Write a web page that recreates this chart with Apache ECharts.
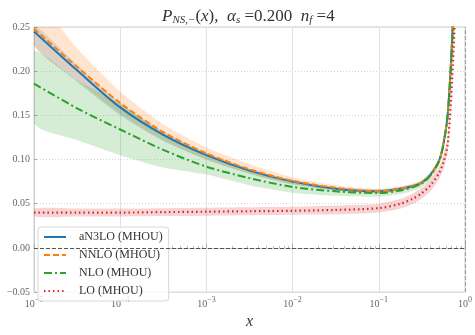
<!DOCTYPE html>
<html>
<head>
<meta charset="utf-8">
<script src="https://cdn.jsdelivr.net/npm/echarts@6/dist/echarts.min.js"></script>
<style>
  html, body { margin: 0; padding: 0; background: #fff; }
  #chart { width: 475px; height: 335px; }
</style>
</head>
<body>
<div id="chart"></div>
<script>
// log10(x) grid the curves were read at
const logX = [-5, -4.5, -4, -3.5, -3, -2.5, -2, -1.5, -1, -0.75, -0.6, -0.5, -0.4, -0.3, -0.25, -0.2, -0.15, -0.1]

const n3lo   = [0.245, 0.201, 0.159, 0.128, 0.105, 0.0875, 0.075, 0.067, 0.064, 0.067, 0.070, 0.074, 0.083, 0.099, 0.118, 0.152, 0.235, 0.36]
const n3loLo = [0.229, 0.188, 0.150, 0.121, 0.100, 0.084, 0.072, 0.065, 0.062, 0.065, 0.068, 0.072, 0.081, 0.097, 0.116, 0.149, 0.231, 0.354]
const n3loHi = [0.252, 0.207, 0.164, 0.132, 0.108, 0.090, 0.077, 0.069, 0.066, 0.069, 0.072, 0.076, 0.085, 0.101, 0.120, 0.155, 0.239, 0.366]

const nnlo   = [0.248, 0.205, 0.164, 0.131, 0.107, 0.089, 0.076, 0.068, 0.064, 0.067, 0.070, 0.074, 0.083, 0.099, 0.118, 0.152, 0.235, 0.36]
const nnloLo = [0.229, 0.190, 0.152, 0.122, 0.100, 0.084, 0.072, 0.065, 0.062, 0.065, 0.068, 0.072, 0.081, 0.097, 0.116, 0.149, 0.231, 0.354]
const nnloHi = [0.282, 0.226, 0.177, 0.140, 0.114, 0.095, 0.080, 0.071, 0.067, 0.070, 0.073, 0.077, 0.086, 0.102, 0.121, 0.156, 0.240, 0.367]

const nlo   = [0.186, 0.158, 0.134, 0.111, 0.092, 0.079, 0.069, 0.064, 0.062, 0.065, 0.069, 0.073, 0.082, 0.098, 0.117, 0.151, 0.233, 0.355]
const nloLo = [0.141, 0.122, 0.105, 0.091, 0.083, 0.071, 0.0625, 0.059, 0.058, 0.061, 0.065, 0.069, 0.078, 0.094, 0.113, 0.147, 0.228, 0.35]
const nloHi = [0.222, 0.190, 0.163, 0.130, 0.106, 0.087, 0.075, 0.068, 0.066, 0.068, 0.072, 0.076, 0.085, 0.101, 0.120, 0.155, 0.237, 0.36]

const lo   = [0.040, 0.040, 0.040, 0.0405, 0.041, 0.0415, 0.042, 0.043, 0.045, 0.050, 0.056, 0.062, 0.071, 0.085, 0.097, 0.118, 0.19, 0.30]
const loLo = [0.0355, 0.0355, 0.0355, 0.036, 0.0365, 0.037, 0.0375, 0.038, 0.040, 0.0445, 0.050, 0.056, 0.064, 0.078, 0.089, 0.109, 0.18, 0.285]
const loHi = [0.0445, 0.0445, 0.0445, 0.045, 0.0455, 0.046, 0.0465, 0.048, 0.050, 0.0555, 0.062, 0.068, 0.078, 0.092, 0.105, 0.127, 0.20, 0.315]

const yTicks = [-0.05, 0, 0.05, 0.1, 0.15, 0.2, 0.25]
// exponents of the decade ticks 10^-5 ... 10^0
const xTickExp = ['−5', '−4', '−3', '−2', '−1', '0']

const xs = logX.map(l => Math.pow(10, l))
const serif = 'Liberation Serif'

const pairs = ys => xs.map((x, i) => [x, ys[i]])

const band = (name, low, high, color) => ({
  name: name,
  type: 'custom',
  clip: true,
  silent: true,
  z: 1,
  data: xs.map((x, i) => [x, low[i], high[i]]),
  renderItem: (params, api) => {
    if (params.dataIndex !== 0) return
    const top = xs.map((x, i) => api.coord([x, high[i]]))
    const bottom = xs.map((x, i) => api.coord([x, low[i]])).reverse()
    return {
      type: 'polygon',
      shape: { points: top.concat(bottom), smooth: 0.25 },
      style: { fill: color }
    }
  }
})

const curve = (name, ys, color, type, width) => ({
  name: name,
  type: 'line',
  smooth: 0.3,
  symbol: 'none',
  z: 3,
  data: pairs(ys),
  lineStyle: { color: color, width: width, type: type },
  itemStyle: { color: color }
})

const option = {
  animation: false,
  title: {
    left: 157,
    top: 2,
    text: '{i|P}{sub|NS,−}{n|(}{i|x}{n|),  }{i|α}{sub|s}{n| =0.200  }{i|n}{sub|f}{n| =4}',
    textStyle: {
      fontWeight: 'normal',
      rich: {
        i: { fontFamily: serif, fontStyle: 'italic', fontWeight: 'normal', fontSize: 17, color: '#333' },
        n: { fontFamily: serif, fontWeight: 'normal', fontSize: 17, color: '#333' },
        sub: { fontFamily: serif, fontStyle: 'italic', fontWeight: 'normal', fontSize: 11, color: '#333', verticalAlign: 'bottom', padding: [8, 0, 0, 0] }
      }
    }
  },
  grid: {
    left: 34, right: 8, top: 27, bottom: 28,
    show: true, borderColor: '#cfcfcf', borderWidth: 1
  },
  legend: {
    orient: 'vertical',
    left: 38,
    top: 227,
    data: ['aN3LO (MHOU)', 'NNLO (MHOU)', 'NLO (MHOU)', 'LO (MHOU)'],
    itemWidth: 22,
    itemHeight: 12,
    itemGap: 6,
    padding: [4, 6, 4, 5],
    itemStyle: { opacity: 0 },
    backgroundColor: 'rgba(255,255,255,0.8)',
    borderColor: '#d8d8d8',
    borderWidth: 1,
    borderRadius: 3,
    textStyle: { fontFamily: serif, fontSize: 12, color: '#333', padding: [0, 0, 0, 8] }
  },
  xAxis: {
    type: 'log',
    logBase: 10,
    min: 1e-5,
    max: 1,
    name: 'x',
    nameLocation: 'middle',
    nameGap: 16,
    nameTextStyle: { fontFamily: serif, fontStyle: 'italic', fontSize: 16, color: '#333' },
    axisLine: { lineStyle: { color: '#cfcfcf' } },
    axisTick: { inside: true, length: 4, lineStyle: { color: '#aaa' } },
    minorTick: { show: true, splitNumber: 9, length: 2, lineStyle: { color: '#bbb' } },
    splitLine: { show: true, lineStyle: { color: '#e2e2e2', width: 1 } },
    axisLabel: {
      margin: 4,
      formatter: v => '{b|10}{s|' + xTickExp[Math.round(Math.log10(v)) + 5] + '}',
      rich: {
        b: { fontFamily: serif, fontSize: 10, color: '#666', verticalAlign: 'bottom' },
        s: { fontFamily: serif, fontSize: 8, color: '#666', verticalAlign: 'bottom', padding: [0, 0, 5, 0] }
      }
    }
  },
  yAxis: {
    type: 'value',
    min: yTicks[0],
    max: yTicks[yTicks.length - 1],
    interval: 0.05,
    axisLine: { show: true, lineStyle: { color: '#cfcfcf' } },
    axisTick: { show: true, inside: true, length: 3, lineStyle: { color: '#aaa' } },
    splitLine: { show: true, lineStyle: { color: '#d6d6d6', type: [1, 2] } },
    axisLabel: {
      margin: 4,
      fontFamily: serif,
      fontSize: 10,
      color: '#666',
      formatter: v => v.toFixed(2).replace('-', '−')
    }
  },
  series: [
    band('n3loBand', n3loLo, n3loHi, 'rgba(31,119,180,0.2)'),
    band('nnloBand', nnloLo, nnloHi, 'rgba(255,127,14,0.2)'),
    band('nloBand', nloLo, nloHi, 'rgba(44,160,44,0.2)'),
    band('loBand', loLo, loHi, 'rgba(214,39,40,0.2)'),
    Object.assign(curve('aN3LO (MHOU)', n3lo, '#1f77b4', 'solid', 2), {
      markLine: {
        silent: true,
        symbol: 'none',
        label: { show: false },
        lineStyle: { type: [4, 2], width: 1 },
        data: [
          { yAxis: 0, lineStyle: { color: '#555' } },
          { xAxis: 1, lineStyle: { color: '#999' } }
        ]
      }
    }),
    curve('NNLO (MHOU)', nnlo, '#ff7f0e', [6, 3], 2),
    curve('NLO (MHOU)', nlo, '#2ca02c', [8, 3, 2, 3], 2),
    curve('LO (MHOU)', lo, '#d62728', [1.5, 3], 2.2)
  ]
}

const chart = echarts.init(document.getElementById('chart'), null, { renderer: 'canvas' })
chart.setOption(option)
</script>
</body>
</html>
